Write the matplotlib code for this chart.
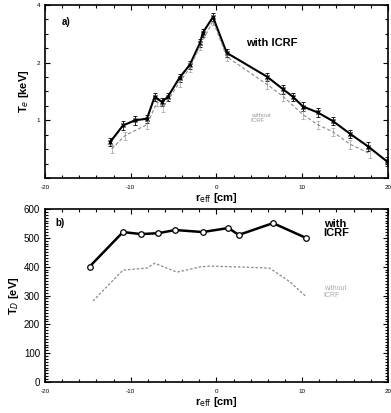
import numpy as np
import matplotlib
matplotlib.use('Agg')
import matplotlib.pyplot as plt
from matplotlib.ticker import MultipleLocator, FixedLocator, NullFormatter

plt.rcParams['font.family'] = ['Liberation Sans', 'DejaVu Sans']

# panel a) electron temperature [keV]
r_te_icrf = [-12.4, -10.9, -9.5, -8.1, -7.2, -6.4, -5.7, -4.3, -3.1, -1.9, -1.6, -0.4,
             1.2, 5.9, 7.8, 8.9, 10.1, 11.8, 13.6, 15.6, 17.7, 19.9]
te_icrf = [0.77, 0.94, 1.00, 1.02, 1.33, 1.25, 1.32, 1.67, 1.95, 2.54, 2.86, 3.46,
           2.25, 1.69, 1.45, 1.33, 1.18, 1.10, 0.99, 0.85, 0.73, 0.61]
r_te_ohm = [-12.2, -10.7, -8.1, -6.9, -6.2, -4.3, -3.1, -1.9, -0.4,
            1.2, 5.9, 7.8, 10.1, 11.8, 13.6, 15.6, 17.9]
te_ohm = [0.71, 0.83, 0.95, 1.25, 1.17, 1.58, 1.88, 2.45, 3.30,
          2.15, 1.54, 1.33, 1.07, 0.95, 0.87, 0.75, 0.67]

# panel b) deuterium temperature [eV]
r_td_icrf = [-14.8, -10.9, -8.8, -6.8, -4.8, -1.6, 1.4, 2.6, 6.6, 10.5]
td_icrf = [400, 520, 513, 516, 527, 520, 534, 510, 551, 499]
r_td_ohm = [-14.4, -10.9, -8.1, -7.2, -5.8, -4.6, -1.9, -0.8, 2.7, 6.2, 8.6, 10.5]
td_ohm = [281, 388, 395, 412, 395, 381, 399, 402, 399, 395, 347, 295]

xticks = [-20, -10, 0, 10, 20]

fig = plt.figure(figsize=(3.91, 4.13), dpi=100)
ax1 = fig.add_axes([0.115, 0.569, 0.877, 0.419])
ax2 = fig.add_axes([0.115, 0.075, 0.877, 0.419])

# top panel
ax1.errorbar(r_te_icrf, te_icrf, yerr=np.array(te_icrf) * 0.05, color='black', lw=1.5,
             marker='x', ms=2.5, capsize=1.2, elinewidth=0.6, capthick=0.6)
ax1.errorbar(r_te_ohm, te_ohm, yerr=np.array(te_ohm) * 0.05, color='#888888', lw=0.8,
             ls=(0, (3, 2)), capsize=1.2, elinewidth=0.4, capthick=0.4)
ax1.set_yscale('log', base=2)
ax1.set_ylim(0.5, 4)
ax1.set_xlim(-20, 20)
ax1.yaxis.set_major_locator(FixedLocator([0.5, 1, 2, 4]))
ax1.set_yticklabels(['', '1', '2', '4'])
ax1.yaxis.set_minor_locator(FixedLocator([0.5 * 2 ** (k / 4) for k in range(13)]))
ax1.yaxis.set_minor_formatter(NullFormatter())
ax1.set_xticks(xticks)
ax1.set_xticklabels([str(t) for t in xticks])
ax1.xaxis.set_minor_locator(MultipleLocator(2))
ax1.text(0.05, 0.93, 'a)', transform=ax1.transAxes, fontsize=7, fontweight='bold', va='top')
ax1.text(3.5, 2.45, 'with ICRF', fontsize=8, fontweight='bold')
ax1.text(4.0, 0.98, 'without\nICRF', fontsize=4.5, color='#999999', linespacing=0.9)
ax1.set_ylabel(r'T$_e$ [keV]', fontsize=8, fontweight='bold', labelpad=4)
ax1.set_xlabel(r'r$_{\rm eff}$ [cm]', fontsize=8, fontweight='bold', labelpad=1)

# bottom panel
ax2.plot(r_td_icrf, td_icrf, color='black', lw=1.8, marker='o', ms=4,
         mfc='white', mec='black', mew=0.9)
ax2.plot(r_td_ohm, td_ohm, color='#888888', lw=0.9, ls=(0, (2, 1.5)))
ax2.set_xlim(-20, 20)
ax2.set_ylim(0, 600)
ax2.set_xticks(xticks)
ax2.set_xticklabels([str(t) for t in xticks])
ax2.xaxis.set_minor_locator(MultipleLocator(2))
ax2.set_yticks([0, 100, 200, 300, 400, 500, 600])
ax2.yaxis.set_minor_locator(MultipleLocator(10))
ax2.text(0.03, 0.95, 'b)', transform=ax2.transAxes, fontsize=7, fontweight='bold', va='top')
ax2.text(12.5, 505, 'with\nICRF', fontsize=8, fontweight='bold', linespacing=0.95)
ax2.text(12.5, 295, 'without\nICRF', fontsize=5, color='#aaaaaa', linespacing=0.9)
ax2.set_ylabel(r'T$_D$ [eV]', fontsize=8, fontweight='bold', labelpad=2)
ax2.set_xlabel(r'r$_{\rm eff}$ [cm]', fontsize=8, fontweight='bold', labelpad=1)

for ax in (ax1, ax2):
    ax.tick_params(which='both', direction='in', top=True, right=True, width=0.8)
    ax.tick_params(which='major', length=3.5)
    ax.tick_params(which='minor', length=2)
    ax.tick_params(axis='x', labelsize=4.5, pad=5)
    for s in ax.spines.values():
        s.set_linewidth(1.2)
ax1.tick_params(axis='y', labelsize=4.5)
ax2.tick_params(axis='y', labelsize=7)

fig.savefig('out.png', dpi=100)
